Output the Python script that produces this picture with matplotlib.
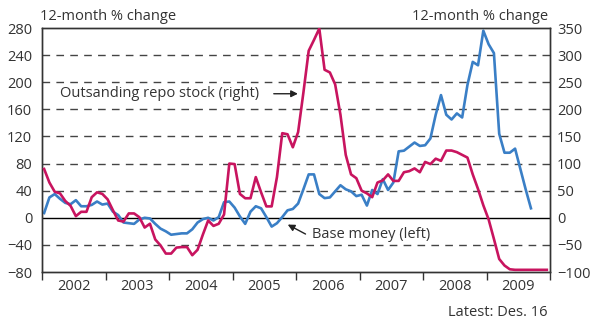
import numpy as np
import matplotlib
matplotlib.use("Agg")
import matplotlib.pyplot as plt
from matplotlib.ticker import FixedLocator, NullFormatter

plt.rcParams['font.family'] = ['Open Sans', 'DejaVu Sans']

# monthly series from Jan 2002, 12-month % change
base_money = [7, 30, 35, 28, 22, 20, 26, 17, 17, 19, 24, 19.5,
              21, 9, 4, -7, -8, -9, -2.5, 0, -1, -9, -16, -20,
              -25, -24, -23, -23, -17, -7, -2, 0, -4, 1, 23, 24,
              15, 2, -9, 9, 17, 14, 1, -13, -8, 1, 11, 13,
              21, 42, 64, 64, 35, 29, 30, 39, 48, 42, 39, 32,
              34, 18, 41, 35, 57, 41, 52, 98, 99, 105, 111, 106,
              107, 117, 152, 181, 152, 145, 154, 148, 196, 230, 225, 276,
              256, 243, 124, 96, 96, 102, 72, 42, 14]

repo_stock = [90, 65, 48, 45, 31, 22, 3, 11, 11, 38, 47, 44,
              34, 14, -5, -7, 8, 8, 1, -18, -11, -40, -51, -66,
              -66, -55, -54, -54, -69, -59, -31, -5, -15, -11, 6, 100,
              99, 44, 36, 36, 75, 47, 21, 21, 75, 156, 154, 130,
              158, 231, 308, 328, 349, 273, 268, 246, 190, 116, 80, 73,
              50, 45, 38, 65, 69, 80, 68, 68, 84, 86, 91, 84,
              103, 99, 109, 105, 124, 124, 121, 116, 111, 80, 53, 23,
              -3, -39, -76, -88, -95, -96, -96, -96, -96, -96, -96, -96]

years = list(range(2002, 2010))
left_ticks = list(range(-80, 281, 40))
right_ticks = list(range(-100, 351, 50))

t_base = 2002 + (np.arange(len(base_money)) + 0.4) / 12
t_repo = 2002 + (np.arange(len(repo_stock)) + 0.4) / 12

blue = '#3a7fc6'
pink = '#c8145f'
txt = '#333333'
fs = 10.5

fig = plt.figure(figsize=(5.9, 3.2), dpi=100)
ax = fig.add_axes([42 / 590, 1 - 272 / 320, 508 / 590, 244 / 320])
ax2 = ax.twinx()

ax.set_xlim(2002, 2010)
ax.set_ylim(-80, 280)
ax2.set_ylim(-100, 350)

ax.set_yticks(left_ticks)
ax2.set_yticks(right_ticks)
for v in left_ticks[1:-1]:
    if v == 0:
        ax.axhline(0, color='black', lw=1.0, zorder=1)
    else:
        ax.axhline(v, color='#444444', lw=1.0, ls=(0, (5.5, 4.5)), zorder=1)

ax.plot(t_base, base_money, color=blue, lw=1.9, zorder=3)
ax2.plot(t_repo, repo_stock, color=pink, lw=1.9, zorder=3)

# year boundaries get tick marks, labels sit in the middle of each year
ax.xaxis.set_major_locator(FixedLocator(list(range(2002, 2011))))
ax.xaxis.set_major_formatter(NullFormatter())
ax.xaxis.set_minor_locator(FixedLocator([y + 0.5 for y in years]))
ax.set_xticklabels([str(y) for y in years], minor=True)
ax.tick_params(axis='x', which='major', direction='out', length=6, width=1, color='#333333')
ax.tick_params(axis='x', which='minor', length=0, pad=5, labelsize=fs, labelcolor=txt)
ax.tick_params(axis='y', length=0, pad=7, labelsize=fs, labelcolor=txt)
ax2.tick_params(axis='y', length=0, pad=5, labelsize=fs, labelcolor=txt)

for a in (ax, ax2):
    for s in a.spines.values():
        s.set_color('#333333')
        s.set_linewidth(1.0)

fig.text(40 / 590, 1 - 17 / 320, '12-month % change', fontsize=fs, color=txt,
         ha='left', va='center')
fig.text(548 / 590, 1 - 17 / 320, '12-month % change', fontsize=fs, color=txt,
         ha='right', va='center')
fig.text(548 / 590, 1 - 312 / 320, 'Latest: Des. 16', fontsize=fs, color=txt,
         ha='right', va='center')

ax.text(2002.29, 183, 'Outsanding repo stock (right)', fontsize=fs, color=txt,
        ha='left', va='center', zorder=4)
ax.annotate('', xy=(2006.03, 183), xytext=(2005.65, 183),
            arrowprops=dict(arrowstyle='-|>', color='#222222', lw=1.0,
                            mutation_scale=10, shrinkA=0, shrinkB=0), zorder=4)

ax.text(2006.25, -25, 'Base money (left)', fontsize=fs, color=txt,
        ha='left', va='center', zorder=4)
ax.annotate('', xy=(2005.87, -10), xytext=(2006.15, -24),
            arrowprops=dict(arrowstyle='-|>', color='#222222', lw=1.0,
                            mutation_scale=10, shrinkA=0, shrinkB=0), zorder=4)

fig.savefig('out.png', dpi=100)
